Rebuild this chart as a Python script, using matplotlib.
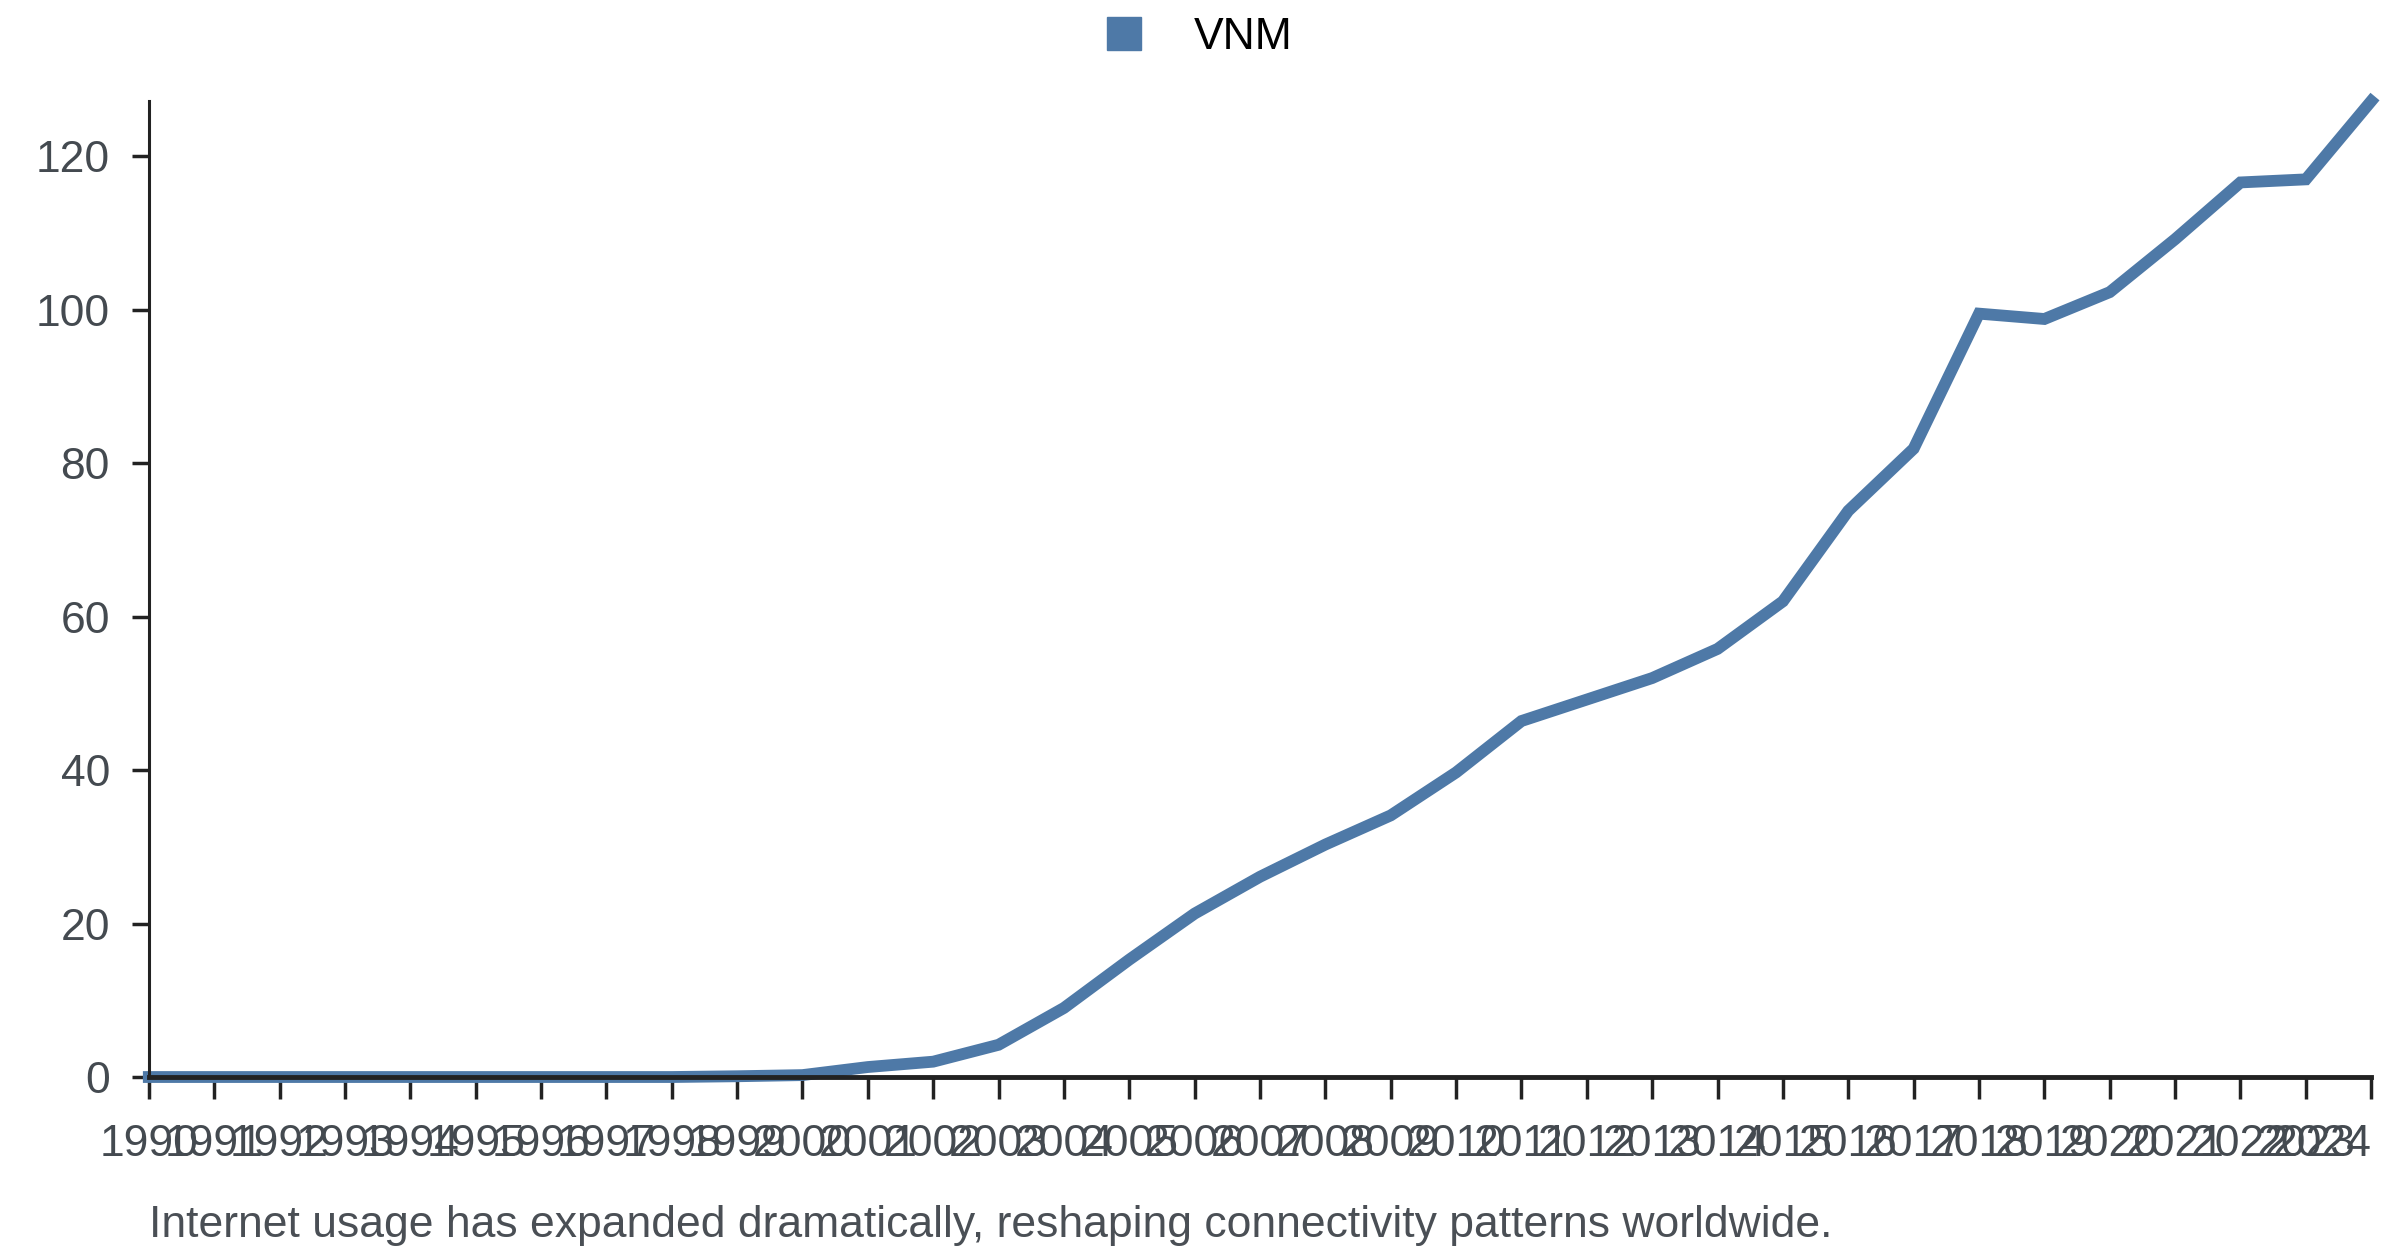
import matplotlib
matplotlib.use("Agg")
import matplotlib.pyplot as plt
from matplotlib.patches import Patch

plt.rcParams['font.family'] = ['Liberation Sans', 'DejaVu Sans']

years = list(range(1990, 2025))
vnm = [0, 0, 0, 0, 0, 0, 0, 0, 0, 0.1, 0.25, 1.3, 2.0, 4.2, 9.0, 15.3, 21.3,
       26.1, 30.3, 34.1, 39.7, 46.4, 49.2, 52.0, 55.8, 62.0, 73.8, 81.9, 99.5,
       98.8, 102.3, 109.2, 116.6, 117.0, 127.2]
series_name = 'VNM'
caption = 'Internet usage has expanded dramatically, reshaping connectivity patterns worldwide.'

blue = '#4e79a7'
fig = plt.figure(figsize=(24, 12.56), dpi=100)
ax = fig.add_axes([0.062, 0.1425, 0.926, 0.777])

ax.plot(years, vnm, color=blue, linewidth=8.5, solid_joinstyle='miter', clip_on=False)

ax.set_xlim(1990, 2024)
ax.set_ylim(0, max(vnm))
ax.set_xticks(years)
ax.set_xticklabels([str(y) for y in years])
ax.set_yticks([0, 20, 40, 60, 80, 100, 120])

for s in ['top', 'right']:
    ax.spines[s].set_visible(False)
ax.spines['left'].set_linewidth(2.2)
ax.spines['bottom'].set_linewidth(3.5)
ax.spines['left'].set_color('#222222')
ax.spines['bottom'].set_color('#222222')

ax.tick_params(axis='x', length=16, width=2.5, color='#222222', labelsize=32,
               labelcolor='#444a50', pad=18)
ax.tick_params(axis='y', length=12, width=2.5, color='#222222', labelsize=32,
               labelcolor='#444a50', pad=16)
# last year label sits inside the figure edge
ax.get_xticklabels()[-1].set_horizontalalignment('right')

handle = Patch(facecolor=blue, edgecolor=blue)
fig.legend([handle], [series_name], loc='center', bbox_to_anchor=(0.5, 0.97),
           frameon=False, fontsize=32, handlelength=0.75, handleheight=0.75,
           handletextpad=1.2)

fig.text(0.062, 0.024, caption, fontsize=32, color='#4a4f55', ha='left', va='center')

fig.savefig('out.png', dpi=100)
